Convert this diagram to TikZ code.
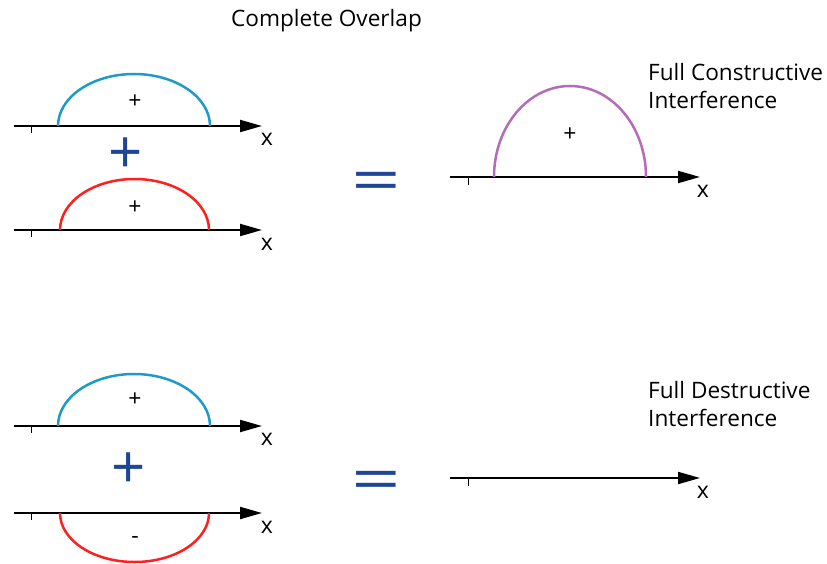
\documentclass[tikz,border=0pt]{standalone}
\usepackage{fontspec}
\setmainfont{Open Sans}
\usepackage{xcolor}
\usetikzlibrary{arrows.meta,positioning,calc}

\begin{document}
\begin{tikzpicture}[x=1pt,y=-1pt]

	% ============================================================
	% COLORS
	% ============================================================
	\definecolor{ink}{HTML}{000000}
	\definecolor{waveBlue}{HTML}{1E9AC8}
	\definecolor{waveRed}{HTML}{FF1F1F}
	\definecolor{wavePurple}{HTML}{B56CB8}
	\definecolor{opBlue}{HTML}{1F4597}

	% ============================================================
	% STYLES
	% ============================================================
	\tikzset{
		axis/.style={-{Triangle[length=22pt,width=12pt]},line width=2pt,draw=ink},
		tick/.style={line width=1pt,draw=ink},
		wave/.style={line width=2.5pt},
		sign/.style={font=\fontsize{23}{25}\selectfont,text=ink,inner sep=0pt},
		xlbl/.style={font=\fontsize{23}{25}\selectfont,text=ink,inner sep=0pt},
		oper/.style={font=\fontsize{60}{64}\selectfont,text=opBlue,inner sep=0pt},
		ttl/.style={font=\fontsize{22.6}{28}\selectfont,text=ink,align=left,inner sep=0pt}
	}

	\useasboundingbox (0,0) rectangle (827,564);

	% ============================================================
	% TITLE
	% ============================================================
	\node[ttl, anchor=west] (title) at (231,21) {Complete Overlap};

	% ============================================================
	% ROW 1 - CONSTRUCTIVE
	% ============================================================
	\coordinate (a1s) at (14,126);  \coordinate (a1e) at (262,126);
	\coordinate (a2s) at (14,230);  \coordinate (a2e) at (262,230);
	\coordinate (a3s) at (450,177); \coordinate (a3e) at (700,177);

	\draw[axis] (a1s) -- (a1e);
	\draw[axis] (a2s) -- (a2e);
	\draw[axis] (a3s) -- (a3e);
	\draw[tick] ($(a1s)+(17,0)$) -- ++(0,7);
	\draw[tick] ($(a2s)+(17,0)$) -- ++(0,7);
	\draw[tick] ($(a3s)+(18,0)$) -- ++(0,8);

	\draw[wave, draw=waveBlue] (58,126) arc[start angle=180,end angle=360,x radius=76,y radius=52];
	\draw[wave, draw=waveRed] (60,230) arc[start angle=180,end angle=360,x radius=74.5,y radius=51];
	\draw[wave, draw=wavePurple] (494,177) arc[start angle=180,end angle=360,x radius=76,y radius=91];

	\node[sign] (s1) at (135,102) {+};
	\node[sign] (s2) at (135,208) {+};
	\node[sign] (s3) at (570,135) {+};

	\node[xlbl] (x1) at (267,139) {x};
	\node[xlbl] (x2) at (267,244) {x};
	\node[xlbl] (x3) at (703,191) {x};

	\node[oper] (plus1) at (126,156) {+};
	\node[oper, yshift=-7pt] (eq1) at (376,180) {\scalebox{1.45}[1]{=}};

	\node[ttl, anchor=north west] (lbl1) at (648,63) {Full Constructive\\Interference};

	% ============================================================
	% ROW 2 - DESTRUCTIVE
	% ============================================================
	\coordinate (b1s) at (14,426);  \coordinate (b1e) at (262,426);
	\coordinate (b2s) at (14,513);  \coordinate (b2e) at (262,513);
	\coordinate (b3s) at (450,478); \coordinate (b3e) at (700,478);

	\draw[axis] (b1s) -- (b1e);
	\draw[axis] (b2s) -- (b2e);
	\draw[axis] (b3s) -- (b3e);
	\draw[tick] ($(b1s)+(17,0)$) -- ++(0,7);
	\draw[tick] ($(b2s)+(17,0)$) -- ++(0,7);
	\draw[tick] ($(b3s)+(18,0)$) -- ++(0,8);

	\draw[wave, draw=waveBlue] (58,426) arc[start angle=180,end angle=360,x radius=76,y radius=52];
	\draw[wave, draw=waveRed] (60,513) arc[start angle=180,end angle=0,x radius=74.5,y radius=49];

	\node[sign] (s4) at (135,400) {+};
	\node[sign] (s5) at (135,540) {-};

	\node[xlbl] (x4) at (267,439) {x};
	\node[xlbl] (x5) at (267,527) {x};
	\node[xlbl] (x6) at (703,492) {x};

	\node[oper] (plus2) at (129,471) {+};
	\node[oper, yshift=-7pt] (eq2) at (376,479) {\scalebox{1.45}[1]{=}};

	\node[ttl, anchor=north west] (lbl2) at (648,381) {Full Destructive\\Interference};

\end{tikzpicture}
\end{document}
